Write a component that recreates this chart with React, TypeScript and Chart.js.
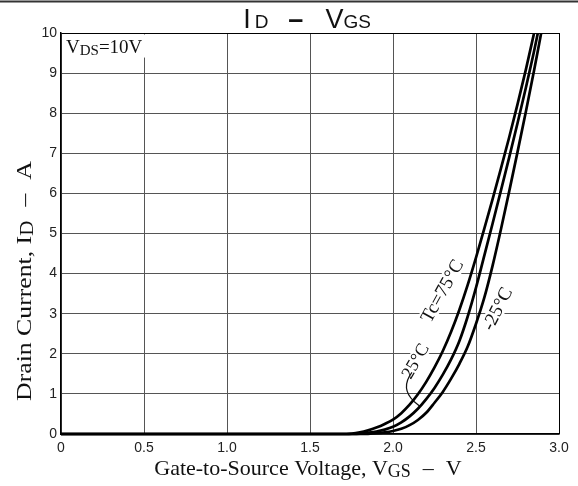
import React, { useEffect, useRef } from "react";
import { Chart, registerables } from "chart.js";

Chart.register(...registerables);

// Gate-to-source voltage (V) and drain current (A)
const vgsTc75 = [0, 1.5, 1.72, 1.8, 1.85, 1.9, 1.95, 2.0, 2.05, 2.1, 2.15, 2.2, 2.25, 2.3, 2.35, 2.4, 2.45, 2.5, 2.55, 2.6, 2.65, 2.7, 2.75, 2.8, 2.85];
const idTc75 = [0, 0, 0, 0.04, 0.09, 0.16, 0.25, 0.36, 0.52, 0.73, 0.99, 1.3, 1.66, 2.07, 2.55, 3.1, 3.72, 4.4, 5.12, 5.86, 6.62, 7.4, 8.22, 9.08, 10.0];

const vgsTc25 = [0, 1.5, 1.78, 1.85, 1.9, 1.95, 2.0, 2.05, 2.1, 2.15, 2.2, 2.25, 2.3, 2.35, 2.4, 2.45, 2.5, 2.55, 2.6, 2.65, 2.7, 2.75, 2.8, 2.85, 2.875];
const idTc25 = [0, 0, 0, 0.03, 0.06, 0.11, 0.18, 0.29, 0.44, 0.63, 0.87, 1.15, 1.48, 1.86, 2.32, 2.93, 3.65, 4.45, 5.25, 6.07, 6.9, 7.75, 8.63, 9.55, 10.05];

const vgsTcM25 = [0, 1.5, 1.8, 1.85, 1.9, 1.95, 2.0, 2.05, 2.1, 2.15, 2.2, 2.25, 2.3, 2.35, 2.4, 2.45, 2.5, 2.55, 2.6, 2.65, 2.7, 2.75, 2.8, 2.85, 2.895];
const idTcM25 = [0, 0, 0, 0.005, 0.018, 0.04, 0.075, 0.13, 0.22, 0.35, 0.53, 0.78, 1.05, 1.38, 1.75, 2.18, 2.75, 3.4, 4.2, 5.1, 6.05, 7.03, 8.03, 9.07, 10.05];

const xTicks = [0, 0.5, 1.0, 1.5, 2.0, 2.5, 3.0];
const xTickLabels = ["0", "0.5", "1.0", "1.5", "2.0", "2.5", "3.0"];
const yTicks = [0, 1, 2, 3, 4, 5, 6, 7, 8, 9, 10];

const SERIF = "'Liberation Serif', 'Times New Roman', serif";
const SANS = "'Liberation Sans', Arial, sans-serif";

type Part = { t: string; font: string; dy?: number; gap?: number };

function richWidth(ctx: CanvasRenderingContext2D, parts: Part[]) {
  let w = 0;
  for (const p of parts) {
    ctx.font = p.font;
    w += ctx.measureText(p.t).width + (p.gap || 0);
  }
  return w;
}

function drawRich(ctx: CanvasRenderingContext2D, parts: Part[], x: number, y: number, align: "left" | "center") {
  const total = richWidth(ctx, parts);
  let cur = align === "center" ? x - total / 2 : x;
  ctx.textAlign = "left";
  for (const p of parts) {
    ctx.font = p.font;
    cur += p.gap || 0;
    ctx.fillText(p.t, cur, y + (p.dy || 0));
    cur += ctx.measureText(p.t).width;
  }
  return total;
}

function rotatedLabel(chart: any, text: string, v: number, i: number, angleDeg: number, size: number) {
  const ctx = chart.ctx as CanvasRenderingContext2D;
  const xs = chart.scales.x;
  const ys = chart.scales.y;
  const px = xs.getPixelForValue(v);
  const py = ys.getPixelForValue(i);
  ctx.save();
  ctx.translate(px, py);
  ctx.rotate((angleDeg * Math.PI) / 180);
  ctx.font = `${size}px ${SERIF}`;
  const w = ctx.measureText(text).width;
  ctx.fillStyle = "#fff";
  ctx.fillRect(-w / 2 - 3, -size * 0.5, w + 6, size * 0.9);
  ctx.fillStyle = "#111";
  ctx.textAlign = "center";
  ctx.textBaseline = "middle";
  ctx.fillText(text, 0, 0);
  ctx.restore();
}

const annotPlugin = {
  id: "annot",
  beforeDatasetsDraw(chart: any) {
    const ctx = chart.ctx as CanvasRenderingContext2D;
    const xs = chart.scales.x;
    const ys = chart.scales.y;
    ctx.save();
    const bx = xs.getPixelForValue(0.03);
    const by = ys.getPixelForValue(9.5);
    ctx.textBaseline = "alphabetic";
    const parts: Part[] = [
      { t: "V", font: `19px ${SERIF}` },
      { t: "DS", font: `15px ${SERIF}`, dy: 2 },
      { t: "=10V", font: `19px ${SERIF}` },
    ];
    const w = richWidth(ctx, parts);
    ctx.fillStyle = "#fff";
    ctx.fillRect(bx - 3, ys.getPixelForValue(10) + 1.5, w + 6, by - ys.getPixelForValue(10) + 3);
    ctx.fillStyle = "#111";
    drawRich(ctx, parts, bx, by, "left");
    ctx.restore();

    rotatedLabel(chart, "Tc=75°C", 2.3, 3.56, -61, 19);
    rotatedLabel(chart, "-25°C", 2.633, 3.11, -63, 19);
    rotatedLabel(chart, "25°C", 2.139, 1.81, -60, 18);

    ctx.save();
    ctx.strokeStyle = "#111";
    ctx.lineWidth = 1.2;
    ctx.beginPath();
    ctx.moveTo(xs.getPixelForValue(2.114), ys.getPixelForValue(1.535));
    ctx.quadraticCurveTo(
      xs.getPixelForValue(2.042), ys.getPixelForValue(1.136),
      xs.getPixelForValue(2.127), ys.getPixelForValue(0.81)
    );
    ctx.lineTo(xs.getPixelForValue(2.163), ys.getPixelForValue(0.687));
    ctx.stroke();
    ctx.restore();
  },
  afterDraw(chart: any) {
    const ctx = chart.ctx as CanvasRenderingContext2D;
    const W = chart.width;
    ctx.save();
    ctx.strokeStyle = "#333";
    ctx.lineWidth = 2;
    ctx.beginPath();
    ctx.moveTo(0, 1.5);
    ctx.lineTo(W, 1.5);
    ctx.stroke();

    ctx.fillStyle = "#111";
    ctx.textBaseline = "alphabetic";
    // Title
    drawRich(ctx, [
      { t: "I", font: `27px ${SANS}` },
      { t: "D", font: `19px ${SANS}`, gap: 4 },
      { t: "–", font: `bold 27px ${SANS}`, gap: 20 },
      { t: "V", font: `27px ${SANS}`, gap: 22 },
      { t: "GS", font: `19px ${SANS}` },
    ], 307, 28, "center");

    // x-axis title
    drawRich(ctx, [
      { t: "Gate-to-Source Voltage, V", font: `22px ${SERIF}` },
      { t: "GS", font: `18px ${SERIF}`, dy: 2 },
      { t: "–", font: `22px ${SERIF}`, gap: 12 },
      { t: "V", font: `22px ${SERIF}`, gap: 12 },
    ], 308, 475, "center");

    // y-axis title
    ctx.save();
    ctx.translate(31, 281);
    ctx.rotate(-Math.PI / 2);
    ctx.scale(1.17, 1);
    drawRich(ctx, [
      { t: "Drain Current, I", font: `22px ${SERIF}` },
      { t: "D", font: `18px ${SERIF}`, dy: 2 },
      { t: "–", font: `22px ${SERIF}`, gap: 12 },
      { t: "A", font: `22px ${SERIF}`, gap: 12 },
    ], 0, 0, "center");
    ctx.restore();
    ctx.restore();
  },
};

function mk(v: number[], i: number[]) {
  return v.map((x, k) => ({ x, y: i[k] }));
}

export default function App() {
  const ref = useRef<HTMLCanvasElement | null>(null);
  useEffect(() => {
    if (!ref.current) return;
    const ds = (label: string, v: number[], i: number[]) => ({
      label,
      data: mk(v, i),
      showLine: true,
      borderColor: "#000",
      borderWidth: 2.7,
      pointRadius: 0,
      cubicInterpolationMode: "monotone" as const,
      clip: { left: 2, top: 0, right: 0, bottom: 3 },
    });
    const chart = new Chart(ref.current, {
      type: "scatter",
      data: {
        datasets: [
          ds("Tc=75°C", vgsTc75, idTc75),
          ds("25°C", vgsTc25, idTc25),
          ds("-25°C", vgsTcM25, idTcM25),
        ],
      },
      options: {
        animation: false,
        responsive: false,
        devicePixelRatio: 1,
        layout: { padding: { top: 33, right: 19, left: 0, bottom: 0 } },
        plugins: { legend: { display: false }, tooltip: { enabled: false }, title: { display: false } },
        scales: {
          x: {
            type: "linear",
            min: 0,
            max: 3,
            afterFit: (s: any) => { s.height = 52; },
            afterBuildTicks: (s: any) => { s.ticks = xTicks.map((value) => ({ value })); },
            ticks: {
              color: "#222",
              font: { family: SANS, size: 14 },
              padding: 6,
              maxRotation: 0,
              callback: (_v: any, idx: number) => xTickLabels[idx],
            },
            grid: {
              drawTicks: false,
              color: (c: any) => (c.tick && c.tick.value === 3 ? "#000" : "#555"),
              lineWidth: 1,
            },
            border: { display: true, color: "#000", width: 1.5 },
          },
          y: {
            type: "linear",
            min: 0,
            max: 10,
            afterFit: (s: any) => { s.width = 61; },
            afterBuildTicks: (s: any) => { s.ticks = yTicks.map((value) => ({ value })); },
            ticks: {
              color: "#222",
              font: { family: SANS, size: 14 },
              padding: 4,
              callback: (v: any) => String(v),
            },
            grid: {
              drawTicks: false,
              color: (c: any) => (c.tick && c.tick.value === 10 ? "#000" : "#555"),
              lineWidth: 1,
            },
            border: { display: true, color: "#000", width: 1.5 },
          },
        },
      },
      plugins: [annotPlugin],
    });
    return () => chart.destroy();
  }, []);
  return (
    <div style={{ position: "absolute", left: 0, top: 0, width: 578, height: 486, background: "#fff" }}>
      <canvas ref={ref} width={578} height={486} style={{ width: 578, height: 486, display: "block" }} />
    </div>
  );
}
